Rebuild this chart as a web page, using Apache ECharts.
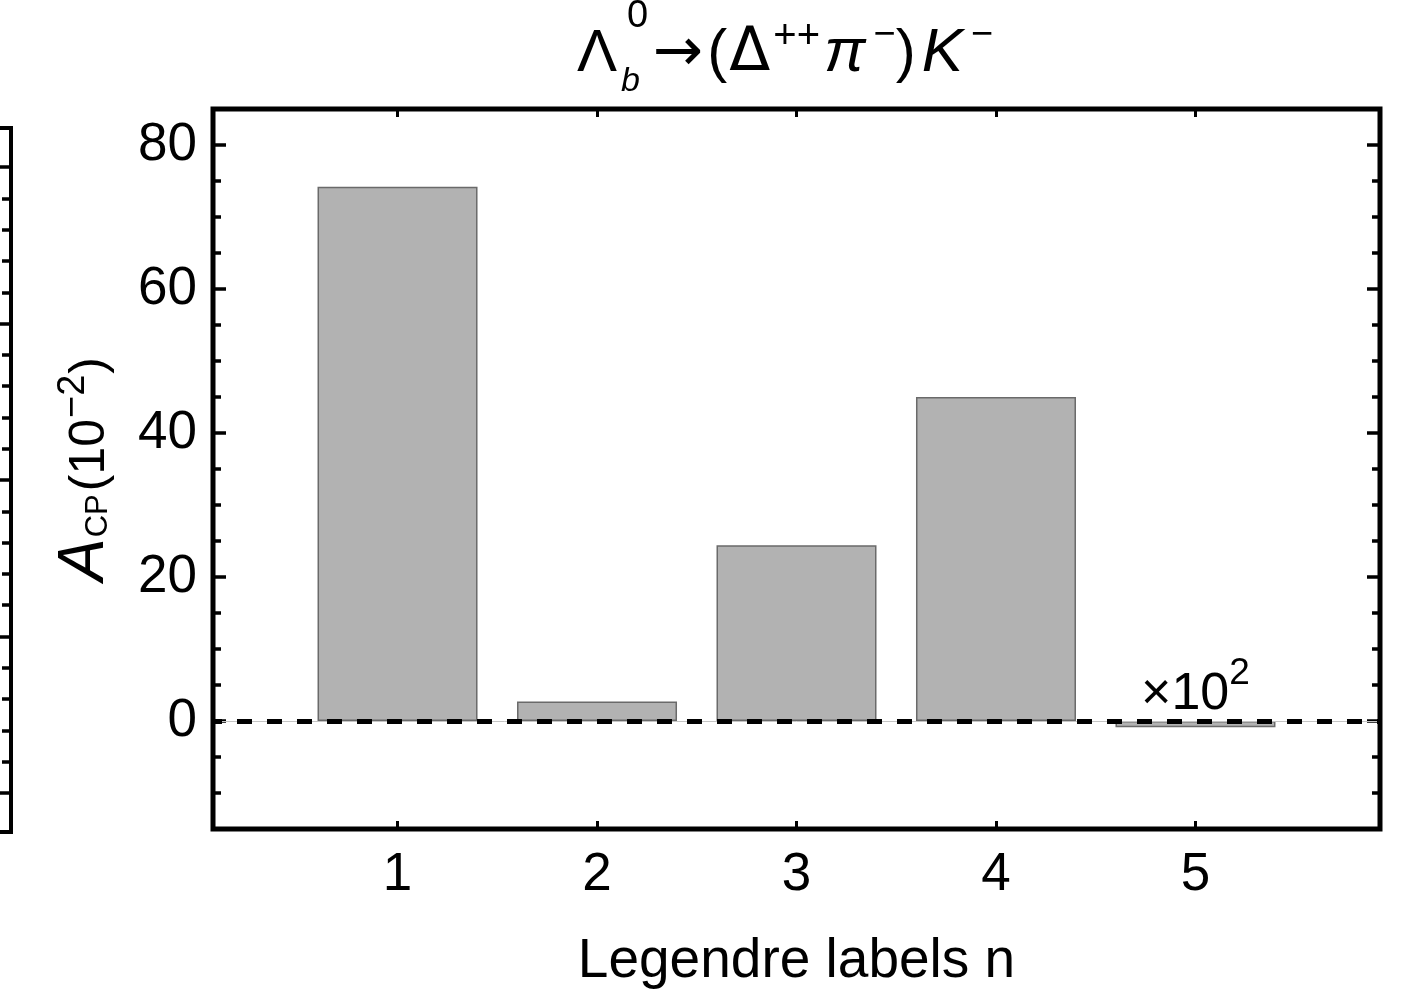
<!DOCTYPE html>
<html>
<head>
<meta charset="utf-8">
<title>Λb → (Δ++ π−) K− : A_CP by Legendre label</title>
<script src="https://cdn.jsdelivr.net/npm/echarts@6/dist/echarts.min.js"></script>
<style>
  html, body { margin: 0; padding: 0; background: #fff; }
  #chart { width: 1409px; height: 993px; }
</style>
</head>
<body>
<div id="chart"></div>
<script>
// Legendre label n on the horizontal axis
const categories = [1, 2, 3, 4, 5];
// A_CP in units of 10^-2; the n = 5 entry is drawn magnified by 10^2
const acpValues = [74.2, 2.7, 24.4, 45.0, -0.87];
// y-axis tick values
const yMajorTicks = [0, 20, 40, 60, 80];
const yMinorTicks = [-10, -5, 5, 10, 15, 25, 30, 35, 45, 50, 55, 65, 70, 75];
// ticks on the frame edge of the neighbouring panel on the left
const stubMajorTicks = [0, 1, 2, 3, 4];
const stubMinorTicks = [0.2, 0.4, 0.6, 0.8, 1.2, 1.4, 1.6, 1.8, 2.2, 2.4, 2.6, 2.8, 3.2, 3.4, 3.6, 3.8];

const F = '"Liberation Sans", Arial, Helvetica, sans-serif';
const FD = '"DejaVu Sans", "Liberation Sans", sans-serif';
const BLACK = '#000';

const chart = echarts.init(document.getElementById('chart'), null, { renderer: 'canvas' });

function tickAxis(base) {
  return Object.assign({
    type: 'value',
    splitLine: { show: false },
    axisLine: { show: false, onZero: false },
    axisLabel: { show: false }
  }, base);
}

function txt(extra) {
  return Object.assign({ fontFamily: F, color: BLACK, fontWeight: 'normal' }, extra);
}

const option = {
  animation: false,
  backgroundColor: '#fff',
  title: [
    {
      text: '{L|Λ}{b|b}{ar|→}{n|(}{D|Δ}{sp|++}{pi|π}{sm|−}{n|)}{K|K}{sm|−}',
      left: 577,
      top: 9,
      padding: 0,
      textStyle: {
        fontWeight: 'normal',
        rich: {
          L: txt({ fontSize: 60, lineHeight: 90, padding: [0, 4, 0, 0] }),
          b: txt({ fontSize: 34, fontStyle: 'italic', lineHeight: 29, verticalAlign: 'bottom', padding: [0, 10, 0, 0] }),
          ar: txt({ fontSize: 60, fontFamily: FD, lineHeight: 90, padding: [0, 4, 0, 3] }),
          n: txt({ fontSize: 60, lineHeight: 90 }),
          D: txt({ fontSize: 60, fontFamily: FD, lineHeight: 90, padding: [0, 3, 0, 2] }),
          sp: txt({ fontSize: 40, lineHeight: 52, verticalAlign: 'top', padding: [8, 0, 0, 0] }),
          pi: txt({ fontSize: 62, fontStyle: 'italic', lineHeight: 90, padding: [0, 8, 0, 4] }),
          sm: txt({ fontSize: 38, lineHeight: 52, verticalAlign: 'top', padding: [8, 0, 0, 0] }),
          K: txt({ fontSize: 62, fontStyle: 'italic', lineHeight: 90, padding: [0, 8, 0, 6] })
        }
      }
    },
    {
      text: '0',
      left: 627,
      top: 3,
      padding: 0,
      textStyle: txt({ fontSize: 38, lineHeight: 28 })
    }
  ],
  grid: [
    {
      left: 213, right: 29, top: 109, bottom: 164,
      show: true, borderColor: BLACK, borderWidth: 5, backgroundColor: 'transparent',
      outerBoundsMode: 'none', containLabel: false
    },
    {
      left: -300, right: 1398, top: 128, bottom: 161,
      show: true, borderColor: BLACK, borderWidth: 4, backgroundColor: 'transparent',
      outerBoundsMode: 'none', containLabel: false
    }
  ],
  xAxis: [
    tickAxis({
      gridIndex: 0, position: 'bottom', min: 0.075, max: 5.925,
      axisTick: { show: true, inside: true, length: 8, customValues: categories, lineStyle: { color: BLACK, width: 3 } },
      axisLabel: txt({
        show: true, customValues: categories, fontSize: 53, margin: 16, lineHeight: 60
      }),
      name: 'Legendre labels n',
      nameLocation: 'middle',
      nameGap: 103,
      nameTextStyle: txt({ fontSize: 55, lineHeight: 60 })
    }),
    tickAxis({
      gridIndex: 0, position: 'top', min: 0.075, max: 5.925,
      axisTick: { show: true, inside: true, length: 8, customValues: categories, lineStyle: { color: BLACK, width: 3 } }
    }),
    tickAxis({ gridIndex: 1, min: 0, max: 1, show: false })
  ],
  yAxis: [
    tickAxis({
      gridIndex: 0, position: 'left', min: -15, max: 85,
      axisTick: { show: true, inside: true, length: 13, customValues: yMajorTicks, lineStyle: { color: BLACK, width: 3.5 } },
      axisLabel: txt({ show: true, customValues: yMajorTicks, fontSize: 53, margin: 16 }),
      name: '{i|A}{sub|CP}{n|(10}{sup|−2}{n|)}',
      nameLocation: 'middle',
      nameGap: 78,
      nameTextStyle: {
        rich: {
          i: txt({ fontSize: 64, fontStyle: 'italic', lineHeight: 80, padding: [0, 1, 10, 0] }),
          n: txt({ fontSize: 50, lineHeight: 80 }),
          sub: txt({ fontSize: 31, lineHeight: 80, padding: [17, 3, 0, 0] }),
          sup: txt({ fontSize: 38, lineHeight: 80, padding: [0, 1, 34, 1] })
        }
      }
    }),
    tickAxis({
      gridIndex: 0, position: 'left', min: -15, max: 85,
      axisTick: { show: true, inside: true, length: 8, customValues: yMinorTicks, lineStyle: { color: BLACK, width: 3.5 } }
    }),
    tickAxis({
      gridIndex: 0, position: 'right', min: -15, max: 85,
      axisTick: { show: true, inside: true, length: 13, customValues: yMajorTicks, lineStyle: { color: BLACK, width: 3.5 } }
    }),
    tickAxis({
      gridIndex: 0, position: 'right', min: -15, max: 85,
      axisTick: { show: true, inside: true, length: 8, customValues: yMinorTicks, lineStyle: { color: BLACK, width: 3.5 } }
    }),
    tickAxis({
      gridIndex: 1, position: 'right', min: -0.25, max: 4.25,
      axisTick: { show: true, inside: true, length: 16, customValues: stubMajorTicks, lineStyle: { color: BLACK, width: 3.5 } }
    }),
    tickAxis({
      gridIndex: 1, position: 'right', min: -0.25, max: 4.25,
      axisTick: { show: true, inside: true, length: 9, customValues: stubMinorTicks, lineStyle: { color: BLACK, width: 3.5 } }
    })
  ],
  series: [
    {
      type: 'bar',
      xAxisIndex: 0,
      yAxisIndex: 0,
      barWidth: 160,
      itemStyle: { color: '#b2b2b2', borderColor: '#6a6a6a', borderWidth: 1.5 },
      data: categories.map((n, i) => {
        const item = { value: [n, acpValues[i]] };
        if (i === categories.length - 1) {
          item.label = {
            show: true,
            position: 'top',
            distance: 0,
            formatter: '{n|×10}{s|2}',
            rich: {
              n: txt({ fontSize: 52, lineHeight: 44, verticalAlign: 'bottom' }),
              s: txt({ fontSize: 37, lineHeight: 66, verticalAlign: 'top' })
            }
          };
        }
        return item;
      }),
      markLine: {
        silent: true,
        symbol: 'none',
        z: 10,
        label: { show: false },
        emphasis: { disabled: true },
        data: [
          { yAxis: 0, lineStyle: { color: '#c4c4c4', width: 1, type: 'solid' } },
          { yAxis: 0, lineStyle: { color: BLACK, width: 5, type: [15, 15], dashOffset: 6 } }
        ]
      }
    }
  ]
};

chart.setOption(option);
</script>
</body>
</html>
